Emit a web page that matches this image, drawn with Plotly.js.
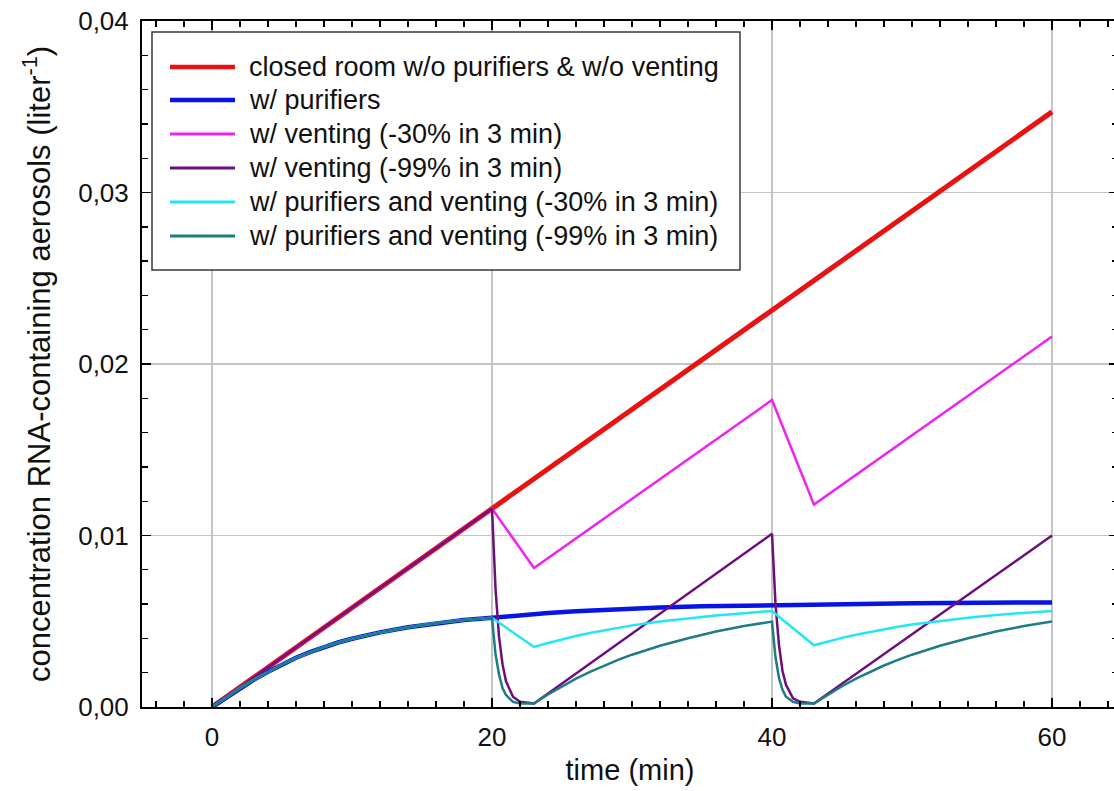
<!DOCTYPE html>
<html>
<head>
<meta charset="utf-8">
<script src="https://cdn.plot.ly/plotly-3.0.1.min.js"></script>
<style>
html, body { margin: 0; padding: 0; overflow: hidden; background: #fff; }
#chart { width: 1118px; height: 791px; }
</style>
</head>
<body>
<div id="chart"></div>
<script>
// ---------- data ----------
const seriesNames = [
  "closed room w/o purifiers & w/o venting",
  "w/ purifiers",
  "w/ venting (-30% in 3 min)",
  "w/ venting (-99% in 3 min)",
  "w/ purifiers and venting (-30% in 3 min)",
  "w/ purifiers and venting (-99% in 3 min)"
];
const seriesColors = ["#e81212", "#0714e4", "#f022f0", "#6c0f7c", "#22e6f6", "#1e7d84"];
const seriesWidths = [5, 4.5, 2.5, 2.5, 2.5, 2.5];

const tClosed = [0, 20, 40, 60];
const cClosed = [0, 0.01157, 0.02313, 0.0347];

const tPurifiers = [0, 1, 2, 3, 4, 5, 6, 7, 8, 9, 10, 12, 14, 16, 18, 20, 22, 24, 26, 28, 30, 32, 35, 40, 45, 50, 55, 60];
const cPurifiers = [0, 0.00056, 0.0011, 0.0016, 0.00206, 0.00248, 0.00287, 0.0032, 0.0035, 0.00376, 0.00398, 0.00435, 0.00465, 0.00489, 0.00507, 0.0052, 0.00535, 0.00548, 0.00558, 0.00567, 0.00574, 0.0058, 0.00587, 0.00595, 0.00601, 0.00605, 0.00608, 0.0061];

const tVent30 = [0, 20, 23, 40, 43, 60];
const cVent30 = [0, 0.01157, 0.0081, 0.0179, 0.0118, 0.0216];

const tVent99 = [0, 20, 20.25, 20.5, 20.75, 21, 21.5, 22, 23, 40, 40.25, 40.5, 40.75, 41, 41.5, 42, 43, 60];
const cVent99 = [0, 0.01157, 0.0069, 0.0041, 0.0025, 0.0015, 0.0006, 0.0003, 0.0002, 0.0101, 0.006, 0.0036, 0.0021, 0.0013, 0.0005, 0.0003, 0.0002, 0.01];

const tPurVent30 = [0, 1, 2, 3, 4, 5, 6, 7, 8, 9, 10, 12, 14, 16, 18, 20, 23, 24, 25, 26, 27, 28, 29, 30, 32, 34, 36, 38, 40, 43, 44, 45, 46, 47, 48, 49, 50, 52, 54, 56, 58, 60];
const cPurVent30 = [0, 0.00056, 0.0011, 0.0016, 0.00206, 0.00248, 0.00287, 0.0032, 0.0035, 0.00376, 0.00398, 0.00435, 0.00465, 0.00489, 0.00507, 0.0052, 0.0035, 0.00373, 0.00395, 0.00414, 0.00432, 0.00448, 0.00462, 0.00476, 0.00499, 0.00518, 0.00534, 0.00547, 0.0056, 0.0036, 0.00382, 0.00403, 0.00421, 0.00438, 0.00454, 0.00468, 0.00481, 0.00503, 0.00521, 0.00537, 0.00549, 0.0056];

const tPurVent99 = [0, 1, 2, 3, 4, 5, 6, 7, 8, 9, 10, 12, 14, 16, 18, 20, 20.25, 20.5, 20.75, 21, 21.5, 22, 23, 24, 25, 26, 27, 28, 29, 30, 32, 34, 36, 38, 40, 40.25, 40.5, 40.75, 41, 41.5, 42, 43, 44, 45, 46, 47, 48, 49, 50, 52, 54, 56, 58, 60];
const cPurVent99 = [0, 0.00056, 0.0011, 0.0016, 0.00206, 0.00248, 0.00287, 0.0032, 0.0035, 0.00376, 0.00398, 0.00435, 0.00465, 0.00489, 0.00507, 0.0052, 0.0031, 0.0019, 0.0011, 0.0007, 0.0003, 0.0002, 0.0002, 0.00073, 0.00121, 0.00165, 0.00205, 0.00242, 0.00275, 0.00305, 0.00357, 0.00401, 0.0044, 0.00472, 0.00498, 0.0029, 0.0017, 0.001, 0.0006, 0.0003, 0.0002, 0.0002, 0.00073, 0.00121, 0.00165, 0.00205, 0.00242, 0.00275, 0.00305, 0.00357, 0.00401, 0.0044, 0.00472, 0.00498];

const xTickVals = [0, 20, 40, 60];
const yTickVals = [0, 0.01, 0.02, 0.03, 0.04];

const xTitle = "time (min)";
const yTitle = "concentration RNA-containing aerosols (liter<sup>-1</sup>)";

// ---------- build ----------
const tArrays = [tClosed, tPurifiers, tVent30, tVent99, tPurVent30, tPurVent99];
const cArrays = [cClosed, cPurifiers, cVent30, cVent99, cPurVent30, cPurVent99];

const traces = seriesNames.map((name, i) => ({
  type: "scatter",
  mode: "lines",
  name: name,
  x: tArrays[i],
  y: cArrays[i],
  line: { color: seriesColors[i], width: seriesWidths[i] },
  showlegend: false,
  hoverinfo: "x+y+name"
}));

const FONT = "Liberation Sans, Arial, Helvetica, sans-serif";

// legend drawn in paper space (plot area: 142..1118 px, 21..707 px)
const L = 142, W = 976, B = 707, H = 686;
const px = v => (v - L) / W;
const py = v => (B - v) / H;
const shapes = [{
  type: "rect", xref: "paper", yref: "paper",
  x0: px(152), x1: px(740), y0: py(270), y1: py(32),
  fillcolor: "#ffffff", line: { color: "#3a3a3a", width: 1.5 }, layer: "above"
}];
const annotations = [];
const rowY = [67, 100, 134, 168, 202, 236];
seriesNames.forEach((name, i) => {
  shapes.push({
    type: "line", xref: "paper", yref: "paper",
    x0: px(170), x1: px(235), y0: py(rowY[i]), y1: py(rowY[i]),
    line: { color: seriesColors[i], width: i < 2 ? 4.5 : 3 }, layer: "above"
  });
  annotations.push({
    xref: "paper", yref: "paper", x: px(247), y: py(rowY[i]),
    xanchor: "left", yanchor: "middle", showarrow: false,
    text: name, font: { family: FONT, size: 27, color: "#111" }
  });
});

const layout = {
  width: 1118, height: 791,
  margin: { l: 142, r: 0, t: 21, b: 84, pad: 0 },
  paper_bgcolor: "#ffffff", plot_bgcolor: "#ffffff",
  separators: ", ",
  font: { family: FONT, size: 26, color: "#111" },
  showlegend: false,
  xaxis: {
    range: [-5, 64.714],
    tickvals: xTickVals,
    ticks: "inside", ticklen: 9, tickwidth: 1.6, tickcolor: "#000",
    minor: { dtick: 2, tick0: 0, ticks: "inside", ticklen: 6, tickwidth: 1.4, tickcolor: "#000", showgrid: false },
    showline: true, linecolor: "#000", linewidth: 2, mirror: "ticks",
    showgrid: true, gridcolor: "#c4c4c4", gridwidth: 1.2,
    zeroline: false,
    tickfont: { family: FONT, size: 26, color: "#111" },
    ticklabelstandoff: 6,
    title: { text: xTitle, font: { family: FONT, size: 29, color: "#111" }, standoff: 8 }
  },
  yaxis: {
    range: [0, 0.04],
    tickvals: yTickVals,
    tickformat: ".2f",
    ticks: "inside", ticklen: 9, tickwidth: 1.6, tickcolor: "#000",
    minor: { dtick: 0.002, tick0: 0, ticks: "inside", ticklen: 6, tickwidth: 1.4, tickcolor: "#000", showgrid: false },
    showline: true, linecolor: "#000", linewidth: 2, mirror: "ticks",
    showgrid: true, gridcolor: "#c4c4c4", gridwidth: 1.2,
    zeroline: false,
    tickfont: { family: FONT, size: 26, color: "#111" },
    ticklabelstandoff: 6,
    title: { text: yTitle, font: { family: FONT, size: 31, color: "#111" }, standoff: 18 }
  },
  shapes: shapes,
  annotations: annotations
};

Plotly.newPlot("chart", traces, layout, { displayModeBar: false, staticPlot: true });
</script>
</body>
</html>
